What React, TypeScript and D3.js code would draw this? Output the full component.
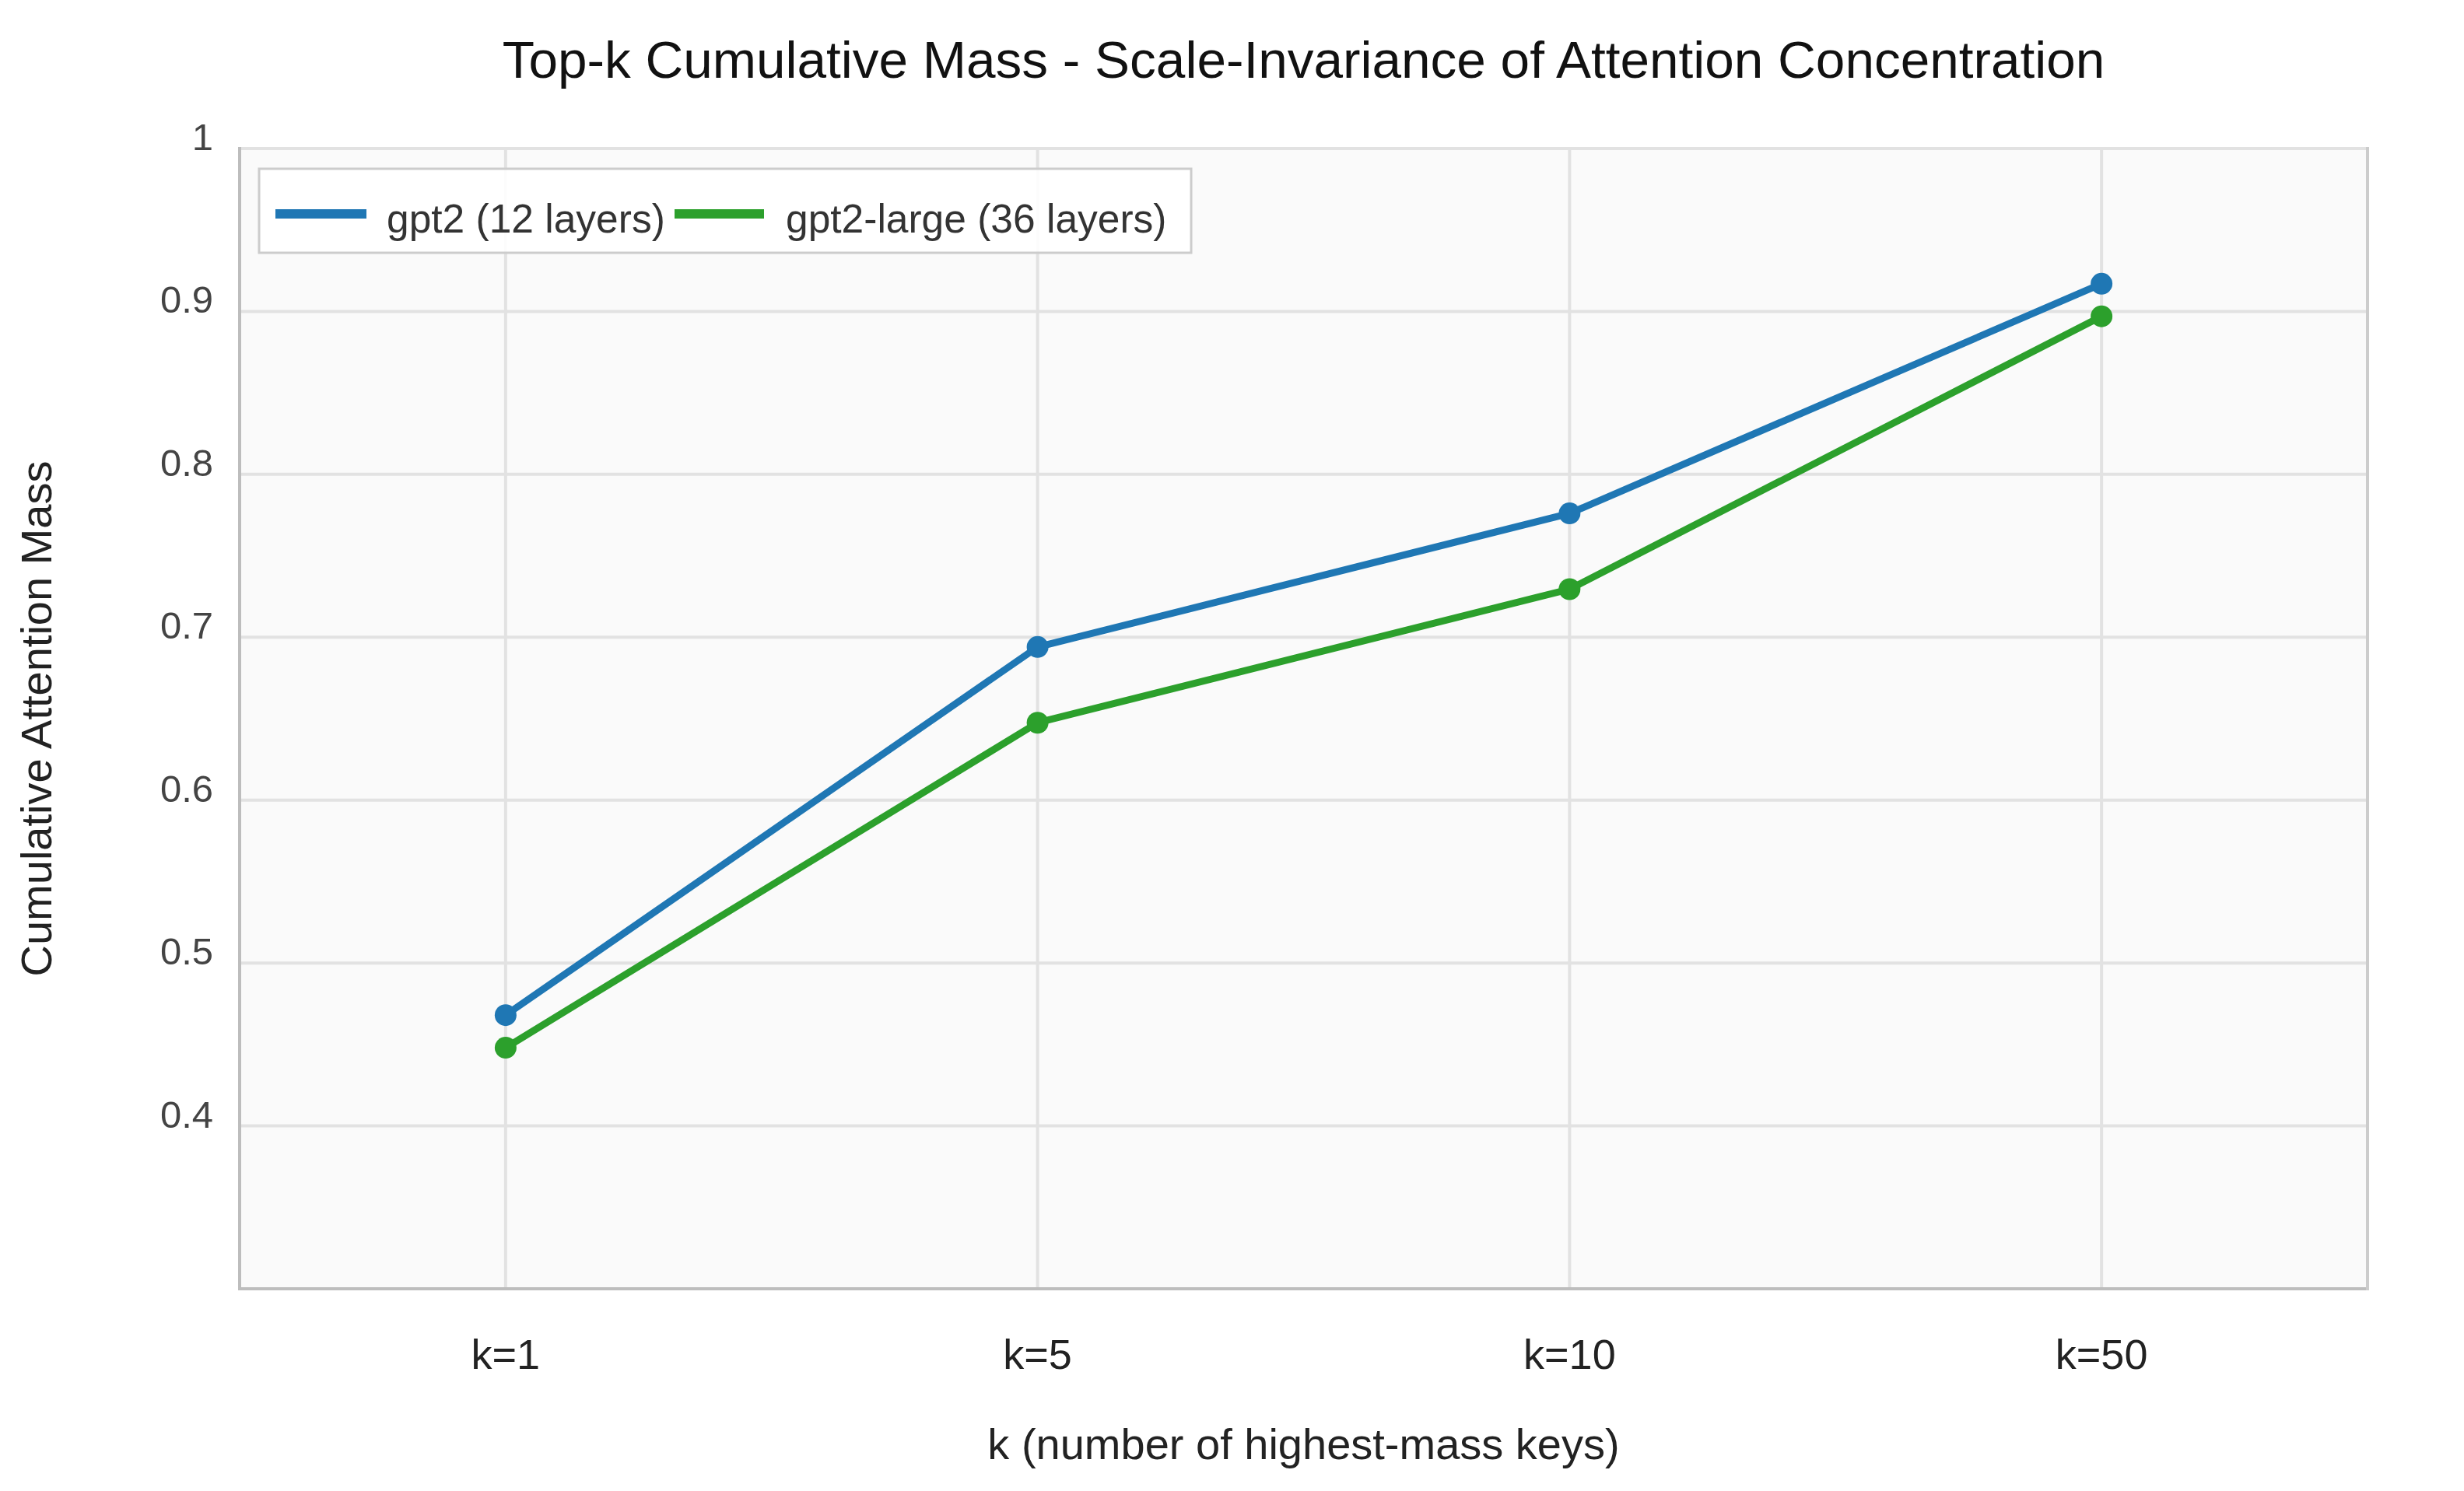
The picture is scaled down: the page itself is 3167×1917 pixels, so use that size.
import React, { useEffect, useRef } from "react";
import * as d3 from "d3";

const categories = ["k=1", "k=5", "k=10", "k=50"];
const seriesNames = ["gpt2 (12 layers)", "gpt2-large (36 layers)"];
const gpt2Values = [0.468, 0.694, 0.776, 0.917];
const gpt2LargeValues = [0.448, 0.6475, 0.7295, 0.897];
const seriesColors = ["#1f77b4", "#2ca02c"];
const yTicks = [0.4, 0.5, 0.6, 0.7, 0.8, 0.9, 1];
const titleText = "Top-k Cumulative Mass - Scale-Invariance of Attention Concentration";
const xTitle = "k (number of highest-mass keys)";
const yTitle = "Cumulative Attention Mass";

const W = 3167;
const H = 1917;
const FONT = "'Liberation Sans', Arial, Helvetica, sans-serif";

export default function App() {
  const ref = useRef<SVGSVGElement | null>(null);

  useEffect(() => {
    const svg = d3.select(ref.current);
    svg.selectAll("*").remove();

    const left = 308, right = 3043, top = 191, bottom = 1657;

    const x = d3.scalePoint<string>().domain(categories).range([left, right]).padding(0.5);
    const y = d3.scaleLinear().domain([0.3, 1.0]).range([bottom, top]);

    svg.append("rect").attr("width", W).attr("height", H).attr("fill", "#ffffff");
    svg.append("rect")
      .attr("x", left).attr("y", top)
      .attr("width", right - left).attr("height", bottom - top)
      .attr("fill", "#fafafa");

    // grid
    const grid = svg.append("g");
    grid.selectAll("line.h").data(yTicks).join("line")
      .attr("x1", left).attr("x2", right)
      .attr("y1", (d) => y(d)).attr("y2", (d) => y(d))
      .attr("stroke", "#e2e2e2").attr("stroke-width", 4);
    grid.selectAll("line.v").data(categories).join("line")
      .attr("x1", (d) => x(d)!).attr("x2", (d) => x(d)!)
      .attr("y1", top).attr("y2", bottom)
      .attr("stroke", "#e2e2e2").attr("stroke-width", 4);

    // spines
    svg.append("line").attr("x1", left).attr("x2", left).attr("y1", top - 2).attr("y2", bottom + 2)
      .attr("stroke", "#bdbdbd").attr("stroke-width", 4);
    svg.append("line").attr("x1", left).attr("x2", right).attr("y1", bottom).attr("y2", bottom)
      .attr("stroke", "#bdbdbd").attr("stroke-width", 4);
    svg.append("line").attr("x1", right).attr("x2", right).attr("y1", top - 2).attr("y2", bottom + 2)
      .attr("stroke", "#cccccc").attr("stroke-width", 4);

    // y tick labels
    svg.append("g").selectAll("text").data(yTicks).join("text")
      .attr("x", 274).attr("y", (d) => y(d) + 2)
      .attr("text-anchor", "end")
      .attr("font-family", FONT).attr("font-size", 49).attr("fill", "#444444")
      .text((d) => (d === 1 ? "1" : d3.format(".1f")(d)));

    // x tick labels
    svg.append("g").selectAll("text").data(categories).join("text")
      .attr("x", (d) => x(d)!).attr("y", 1760)
      .attr("text-anchor", "middle")
      .attr("font-family", FONT).attr("font-size", 54).attr("fill", "#222222")
      .text((d) => d);

    // axis titles
    svg.append("text")
      .attr("x", (left + right) / 2).attr("y", 1876)
      .attr("text-anchor", "middle")
      .attr("font-family", FONT).attr("font-size", 56).attr("fill", "#222222")
      .text(xTitle);
    svg.append("text")
      .attr("transform", `translate(66,${(top + bottom) / 2}) rotate(-90)`)
      .attr("text-anchor", "middle")
      .attr("font-family", FONT).attr("font-size", 56).attr("fill", "#222222")
      .text(yTitle);

    // title
    svg.append("text")
      .attr("x", (left + right) / 2).attr("y", 100)
      .attr("text-anchor", "middle")
      .attr("font-family", FONT).attr("font-size", 67.5).attr("fill", "#111111")
      .text(titleText);

    // series
    const allSeries = [gpt2Values, gpt2LargeValues];
    const line = d3.line<number>()
      .x((_, i) => x(categories[i])!)
      .y((d) => y(d));
    allSeries.forEach((vals, si) => {
      svg.append("path")
        .attr("d", line(vals) || "")
        .attr("fill", "none")
        .attr("stroke", seriesColors[si])
        .attr("stroke-width", 9)
        .attr("stroke-linejoin", "round");
      svg.append("g").selectAll("circle").data(vals).join("circle")
        .attr("cx", (_, i) => x(categories[i])!)
        .attr("cy", (d) => y(d))
        .attr("r", 14)
        .attr("fill", seriesColors[si]);
    });

    // legend
    const lg = svg.append("g");
    lg.append("rect")
      .attr("x", 333).attr("y", 217).attr("width", 1198).attr("height", 108)
      .attr("fill", "#ffffff").attr("fill-opacity", 0.9)
      .attr("stroke", "#cccccc").attr("stroke-width", 3);
    const items = [
      { x1: 354, x2: 471, tx: 497 },
      { x1: 867, x2: 982, tx: 1010 },
    ];
    items.forEach((it, i) => {
      lg.append("line")
        .attr("x1", it.x1).attr("x2", it.x2).attr("y1", 275).attr("y2", 275)
        .attr("stroke", seriesColors[i]).attr("stroke-width", 12);
      lg.append("text")
        .attr("x", it.tx).attr("y", 299)
        .attr("font-family", FONT).attr("font-size", 51.5).attr("fill", "#333333")
        .text(seriesNames[i]);
    });
  }, []);

  return (
    <div style={{ position: "absolute", left: 0, top: 0 }}>
      <svg ref={ref} width={W} height={H} style={{ display: "block" }} />
    </div>
  );
}
